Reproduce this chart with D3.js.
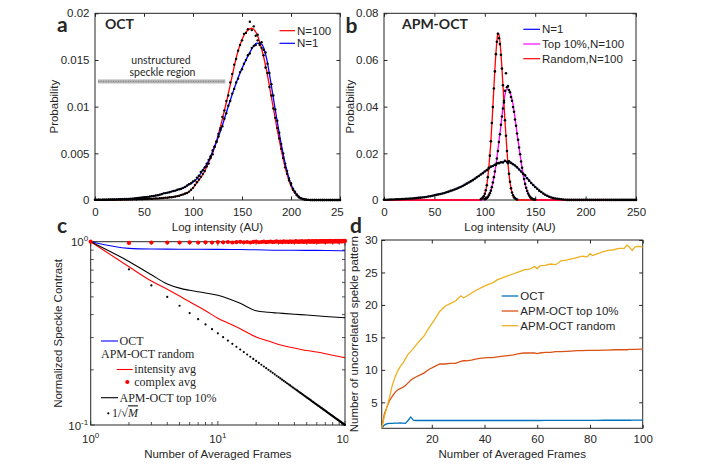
<!DOCTYPE html>
<html><head><meta charset="utf-8">
<script src="https://cdn.jsdelivr.net/npm/d3@7/dist/d3.min.js"></script>
<style>
body{margin:0;background:#fff}
text{font-family:"Liberation Sans",Arial,sans-serif;fill:#262626}
</style></head>
<body><svg id="chart" width="709" height="470"></svg>
<script>
// ---------------- DATA ----------------
// Panel a (OCT) - smooth curves, sampled every 5 AU from 0
const aCurveN100 = [0,0,0,0,0.00002,0.00003,0.00004,0.00005,0.00006,0.00008,0.0001,0.00012,0.00015,0.00018,0.00022,0.00027,0.00033,0.00045,0.0006,0.0008,0.0013,0.002,0.0027,0.0038,0.005,0.0067,0.0087,0.0109,0.0133,0.0156,0.0172,0.0181,0.0184,0.0178,0.0162,0.0139,0.011,0.0081,0.0054,0.0031,0.0015,0.0006,0.0002,0.00005,0,0,0,0,0,0,0];
const aCurveN1 = [0.00002,0.00003,0.00004,0.00005,0.00006,0.00008,0.0001,0.00013,0.00017,0.00022,0.00028,0.00035,0.00043,0.00055,0.0007,0.00082,0.00096,0.0011,0.0013,0.0016,0.0019,0.0024,0.0032,0.004,0.0052,0.0065,0.008,0.0097,0.0113,0.0128,0.0141,0.0152,0.0162,0.0168,0.0167,0.0152,0.0122,0.009,0.006,0.0035,0.0017,0.0007,0.00022,0.00005,0,0,0,0,0,0,0];
// Panel a histogram dots, every 2 AU from 0
const aDotsN100 = [0.00001,0.00001,0.00002,0.00001,0.00002,0.00002,0.00002,0.00003,0.00002,0.00003,0.00003,0.00003,0.00004,0.00003,0.00004,0.00005,0.00004,0.00005,0.00006,0.00005,0.00007,0.00006,0.00008,0.00009,0.00008,0.0001,0.00011,0.0001,0.00013,0.00012,0.00015,0.00016,0.00015,0.00019,0.0002,0.00021,0.00025,0.00024,0.00029,0.0003,0.00033,0.00038,0.00042,0.00046,0.00055,0.0006,0.0007,0.00075,0.0009,0.0011,0.0013,0.0016,0.0019,0.0022,0.0025,0.0028,0.0031,0.0036,0.0039,0.0045,0.0049,0.0057,0.0062,0.0071,0.0077,0.0089,0.0096,0.0106,0.0112,0.0126,0.0135,0.0145,0.0151,0.016,0.0166,0.0171,0.0178,0.0179,0.0183,0.0191,0.0182,0.0186,0.0176,0.0177,0.0168,0.0163,0.0155,0.0142,0.0136,0.0121,0.0112,0.0098,0.0088,0.0077,0.0066,0.0055,0.0045,0.0035,0.0028,0.0021,0.0016,0.0011,0.0008,0.0005,0.0003,0.0002,0.0001,0.00005,0.00002,0.00001,0,0,0,0,0,0,0,0,0,0,0,0,0,0,0,0];
const aDotsN1 = [0.00002,0.00002,0.00003,0.00003,0.00004,0.00004,0.00004,0.00005,0.00005,0.00006,0.00006,0.00007,0.00008,0.00008,0.00009,0.0001,0.00011,0.00012,0.00014,0.00015,0.00017,0.00019,0.00021,0.00024,0.00026,0.00029,0.0003,0.00034,0.00037,0.0004,0.00043,0.00048,0.00051,0.00057,0.00062,0.00071,0.00074,0.00079,0.00083,0.0009,0.00097,0.001,0.0011,0.00115,0.0012,0.0013,0.0014,0.00155,0.0017,0.0018,0.002,0.0021,0.0024,0.0026,0.003,0.0032,0.0035,0.0039,0.0043,0.0047,0.0053,0.0057,0.0063,0.0068,0.0075,0.0079,0.0087,0.0093,0.0101,0.0106,0.0114,0.0119,0.0126,0.013,0.0137,0.014,0.0146,0.015,0.0155,0.0157,0.0163,0.0165,0.0166,0.0171,0.0166,0.0169,0.0161,0.0158,0.0146,0.0136,0.0124,0.0112,0.0097,0.0085,0.0072,0.006,0.005,0.0039,0.0031,0.0023,0.0018,0.0012,0.0009,0.0006,0.00035,0.0002,0.0001,0.00005,0.00002,0.00001,0,0,0,0,0,0,0,0,0,0,0,0,0,0,0,0];
const aXTicks = [0,50,100,150,200,250];
const aXTickLabels = ['0','50','100','150','200','250'];
const aYTicks = [0,0.005,0.01,0.015,0.02];
const aYTickLabels = ['0','0.005','0.01','0.015','0.02'];
const aRegion = [3,133];      // unstructured speckle region (AU)
const aRegionLevel = 0.0127;

// Panel b (APM-OCT)
const bN1X = [0,10,20,30,40,50,60,70,80,90,100,110,115,120,125,130,135,140,145,150,155,160,165,170,175,180,190,250];
const bN1Y = [0.0001,0.0002,0.0004,0.0007,0.0012,0.002,0.003,0.0045,0.0065,0.009,0.0122,0.0152,0.016,0.0165,0.0162,0.0148,0.0127,0.0103,0.0078,0.0056,0.0037,0.0022,0.0012,0.0006,0.0003,0.0001,0,0];
const bTopX = [0,96,100,102,104,106,108,110,112,114,116,118,120,122,124,126,128,130,132,134,136,138,140,142,144,146,148,150,155,250];
const bTopY = [0,0,0.0003,0.0008,0.002,0.004,0.0075,0.012,0.018,0.025,0.032,0.0395,0.045,0.0475,0.0472,0.0448,0.041,0.035,0.0285,0.0225,0.0165,0.011,0.0068,0.0038,0.0018,0.0007,0.0002,0,0,0];
const bRandX = [0,90,94,96,98,100,102,104,106,108,110,112,113,114,116,118,120,122,124,126,128,130,132,134,138,250];
const bRandY = [0,0,0,0.0002,0.0008,0.0025,0.0065,0.014,0.025,0.04,0.056,0.068,0.0715,0.071,0.063,0.049,0.034,0.021,0.011,0.005,0.002,0.0007,0.0002,0,0,0];
const bDotsN1 = [0.0001,0.0001,0.0001,0.0002,0.0002,0.0002,0.0003,0.0003,0.0003,0.0004,0.0004,0.0005,0.0005,0.0006,0.0006,0.0007,0.0008,0.0009,0.001,0.0011,0.0012,0.0013,0.0015,0.0016,0.0018,0.002,0.0022,0.0024,0.0026,0.0028,0.003,0.0033,0.0036,0.0039,0.0042,0.0045,0.0048,0.0052,0.0056,0.006,0.0065,0.007,0.0075,0.008,0.0085,0.0091,0.0097,0.0103,0.0109,0.0115,0.0122,0.0128,0.0135,0.0143,0.0146,0.0151,0.0157,0.0158,0.0162,0.0161,0.0168,0.0164,0.0166,0.0159,0.0153,0.0148,0.014,0.0131,0.0122,0.0112,0.0106,0.0093,0.0083,0.0073,0.0064,0.0056,0.0048,0.004,0.0034,0.0028,0.0022,0.0018,0.0014,0.0011,0.0008,0.0006,0.0005,0.0004,0.0003,0.0002,0.0001,0.00005,0.00005,0.00005,0.00005,0.00005,0.00005,0.00005,0.00005,0.00005,0.00005,0.00005,0.00005,0.00005,0.00005,0.00005,0.00005,0.00005,0.00005,0.00005,0.00005,0.00005,0.00005,0.00005,0.00005,0.00005,0.00005,0.00005,0.00005,0.00005,0.00005,0.00005,0.00005,0.00005,0.00005,0.00005];
const bDotsRandStart = 96;
const bDotsRand = [0.0003,0.0006,0.001,0.0016,0.0027,0.0042,0.0063,0.0098,0.0138,0.019,0.0252,0.033,0.0398,0.0478,0.0551,0.0625,0.0678,0.0712,0.0693,0.0668,0.0622,0.0563,0.0492,0.0418,0.0342,0.0275,0.021,0.0158,0.0112,0.0078,0.005,0.0032,0.002,0.0012,0.0007,0.0004,0.0002];
const bDotsTopStart = 100;
const bDotsTop = [0.0003,0.0005,0.0009,0.0013,0.002,0.0029,0.004,0.0055,0.0075,0.0098,0.0122,0.015,0.0178,0.021,0.0248,0.0282,0.0322,0.0358,0.0392,0.0425,0.0468,0.0543,0.0483,0.0488,0.0471,0.0462,0.0441,0.0425,0.0398,0.0378,0.0345,0.0318,0.0285,0.0258,0.0225,0.0196,0.0165,0.0138,0.0112,0.009,0.0069,0.0052,0.0039,0.0028,0.0019,0.0013,0.0008,0.0005,0.0003,0.0002,0.0001];
const bXTicks = [0,50,100,150,200,250];
const bXTickLabels = ['0','50','100','150','200','250'];
const bYTicks = [0,0.02,0.04,0.06,0.08];
const bYTickLabels = ['0','0.02','0.04','0.06','0.08'];

// Panel c (speckle contrast vs frames)
const cOctM = [1,2,3,5,10,15,20,30,50,70,100];
const cOct = [1,0.92,0.912,0.91,0.908,0.906,0.903,0.898,0.897,0.896,0.892];
const cRandM = [1,2,3,4,5,6,7,8,10,12,15,20,25,30,40,50,60,70,80,100];
const cRand = [1,0.73,0.61,0.55,0.505,0.47,0.443,0.42,0.382,0.36,0.335,0.302,0.287,0.275,0.263,0.255,0.25,0.245,0.24,0.233];
const cTopM = [1,2,3,4,5,6,7,8,10,12,15,20,25,30,40,50,70,100];
const cTop = [1,0.78,0.66,0.588,0.558,0.543,0.533,0.525,0.51,0.49,0.461,0.42,0.412,0.408,0.402,0.398,0.391,0.385];
const cComplex = [1.0,0.985,0.99,0.99,0.99,0.992,0.99,0.993,0.99,0.995,
0.992,0.996,0.99,0.994,0.998,0.992,0.996,0.99,0.997,1.0,
0.993,0.996,1.0,0.994,0.998,1.002,0.995,0.999,1.003,0.996,
1.0,0.993,1.004,0.998,1.001,0.995,1.005,0.999,1.002,0.996,
1.006,1.0,0.997,1.004,0.999,1.007,0.996,1.002,1.005,0.998,
1.003,1.008,0.999,1.004,1.0,1.006,0.997,1.003,1.008,1.001,
1.005,0.998,1.007,1.002,1.004,1.009,1.0,1.006,1.003,0.999,
1.008,1.004,1.001,1.007,1.003,1.01,1.002,1.006,1.004,1.009,
1.001,1.007,1.005,1.011,1.003,1.008,1.006,1.002,1.01,1.005,
1.008,1.004,1.011,1.007,1.003,1.009,1.006,1.012,1.008,1.01];
const cInvSqrt = [0.7071,0.5774,0.5,0.4472,0.4082,0.378,0.3536,0.3333,0.3162,0.3015,0.2887,0.2774,0.2673,0.2582,0.25,0.2425,0.2357,0.2294,0.2236,0.2182,0.2132,0.2085,0.2041,0.2,0.1961,0.1925,0.189,0.1857,0.1826,0.1796,0.1768,0.1741,0.1715,0.169,0.1667,0.1644,0.1622,0.1601,0.1581,0.1562,0.1543,0.1525,0.1508,0.1491,0.1474,0.1459,0.1443,0.1429,0.1414,0.14,0.1387,0.1374,0.1361,0.1348,0.1336,0.1325,0.1313,0.1302,0.1291,0.128,0.127,0.126,0.125,0.124,0.1231,0.1222,0.1213,0.1204,0.1195,0.1187,0.1179,0.117,0.1162,0.1155,0.1147,0.114,0.1132,0.1125,0.1118,0.1111,0.1104,0.1098,0.1091,0.1085,0.1078,0.1072,0.1066,0.106,0.1054,0.1048,0.1043,0.1037,0.1031,0.1026,0.1021,0.1015,0.101,0.1005,0.1];

// Panel d (uncorrelated speckle patterns)
const dFrames = [1,2,3,4,5,6,7,8,9,10,11,12,13,14,15,17,19,21,23,25,27,29,31,32,33,35,37,39,41,43,45,47,49,51,53,55,57,59,60,61,63,65,67,69,71,73,75,77,79,80,81,83,85,87,89,91,93,94,95,96,97,98,99,100];
const dOct = [1.0,1.5,1.7,1.75,1.75,1.8,1.8,1.85,1.8,1.75,2.2,2.75,2.25,2.2,2.2,2.2,2.2,2.2,2.2,2.2,2.2,2.2,2.2,2.2,2.2,2.2,2.2,2.2,2.2,2.2,2.2,2.2,2.2,2.2,2.2,2.2,2.2,2.2,2.2,2.2,2.22,2.22,2.22,2.22,2.22,2.22,2.22,2.22,2.22,2.22,2.22,2.22,2.24,2.24,2.24,2.24,2.24,2.24,2.24,2.25,2.25,2.25,2.25,2.25];
const dTop = [1.0,3.2,4.3,5.3,5.9,6.5,6.9,7.1,7.3,7.6,8.0,8.4,8.7,8.9,9.1,9.5,10.1,10.5,10.9,10.9,11.0,11.0,11.3,11.4,11.4,11.5,11.7,11.8,11.9,11.9,12.0,12.1,12.2,12.3,12.5,12.6,12.6,12.6,12.5,12.6,12.7,12.7,12.8,12.8,12.85,12.9,12.95,12.95,13.0,13.0,13.0,13.0,13.05,13.05,13.1,13.1,13.1,13.1,13.15,13.15,13.15,13.15,13.2,13.2];
const dRand = [1.0,2.8,4.3,5.8,7.6,8.8,9.8,10.5,11.0,11.7,12.4,12.8,13.3,13.8,14.3,15.2,16.5,17.7,19.0,19.8,20.2,20.6,21.4,21.1,21.3,21.8,22.3,22.7,23.1,23.4,23.9,24.2,24.5,24.8,25.1,25.4,25.5,25.9,25.6,26.0,26.1,26.3,26.2,26.8,26.9,27.1,27.3,27.5,27.4,27.9,27.6,27.9,28.2,28.4,28.5,28.7,28.7,29.2,28.9,28.4,28.9,29.0,29.0,28.9];
const dXTicks = [20,40,60,80,100];
const dYTicks = [5,10,15,20,25,30];

// ---------------- DRAWING ----------------
const AX = '#262626', FS = 11.5;
const svg = d3.select('#chart');
const defs = svg.append('defs');
defs.append('clipPath').attr('id','clipA').append('rect').attr('x',0).attr('y',0).attr('width',344).attr('height',236);
defs.append('clipPath').attr('id','clipC').append('rect').attr('x',0).attr('y',236).attr('width',348.5).attr('height',234);

function linAxes(g, x, y, xt, xl, yt, yl, opt) {
  const [x0,x1] = x.range(), [y0,y1] = y.range();
  const tl = opt.tick || 3.5;
  const ax = [
    g.append('g').attr('transform',`translate(0,${y0})`).call(d3.axisBottom(x).tickValues(xt).tickFormat((d,i)=>xl[i]).tickSize(-tl).tickSizeOuter(0).tickPadding(opt.xpad)),
    g.append('g').attr('transform',`translate(0,${y1})`).call(d3.axisTop(x).tickValues(xt).tickFormat('').tickSize(-tl).tickSizeOuter(0)),
    g.append('g').attr('transform',`translate(${x0},0)`).call(d3.axisLeft(y).tickValues(yt).tickFormat((d,i)=>yl[i]).tickSize(-tl).tickSizeOuter(0).tickPadding(opt.ypad)),
    g.append('g').attr('transform',`translate(${x1},0)`).call(d3.axisRight(y).tickValues(yt).tickFormat('').tickSize(-tl).tickSizeOuter(0))
  ];
  ax.forEach(a=>{
    a.select('.domain').remove();
    a.selectAll('line').attr('stroke',AX);
    a.selectAll('text').attr('font-size',FS).attr('fill',AX).style('font-family','"Liberation Sans",Arial,sans-serif');
  });
  g.append('rect').attr('x',x0).attr('y',y1).attr('width',x1-x0).attr('height',y0-y1)
    .attr('fill','none').attr('stroke',AX).attr('stroke-width',1);
}
function xLabel(g, x, yb, t){ g.append('text').attr('x',x).attr('y',yb).attr('text-anchor','middle').attr('font-size',FS).text(t); }
function yLabel(g, xc, yc, t){ g.append('text').attr('transform',`translate(${xc},${yc}) rotate(-90)`).attr('dy','0.35em').attr('text-anchor','middle').attr('font-size',FS).text(t); }
function panelLetter(x, y, t){ svg.append('text').attr('x',x).attr('y',y).attr('font-weight','bold').attr('font-size',21).attr('fill','#000').style('font-family','Lato,sans-serif').text(t); }
function legendLine(g, x0, x1, y, color, label, lw){
  g.append('line').attr('x1',x0).attr('x2',x1).attr('y1',y).attr('y2',y).attr('stroke',color).attr('stroke-width',lw||1.2);
  g.append('text').attr('x',x1+2).attr('y',y).attr('dy','0.35em').attr('font-size',FS).text(label);
}

// ---- Panel a ----
const gA = svg.append('g').attr('clip-path','url(#clipA)');
const aX = d3.scaleLinear().domain([0,250]).range([95,340]);
const aY = d3.scaleLinear().domain([0,0.02]).range([200,13.3]);
linAxes(gA, aX, aY, aXTicks, aXTickLabels, aYTicks, aYTickLabels, {xpad:7.5, ypad:5.5});
const lineA = d3.line().x(d=>aX(d[0])).y(d=>aY(d[1])).curve(d3.curveMonotoneX);
gA.append('path').datum(aCurveN100.map((v,i)=>[i*5,v])).attr('d',lineA).attr('fill','none').attr('stroke','#ff0000').attr('stroke-width',1.3);
gA.append('path').datum(aCurveN1.map((v,i)=>[i*5,v])).attr('d',lineA).attr('fill','none').attr('stroke','#0000ff').attr('stroke-width',1.3);
gA.selectAll('.dA1').data(aDotsN100.map((v,i)=>[i*2,v])).join('circle').attr('cx',d=>aX(d[0])).attr('cy',d=>aY(d[1])).attr('r',1.2).attr('fill','#000');
gA.selectAll('.dA2').data(aDotsN1.map((v,i)=>[i*2,v])).join('circle').attr('cx',d=>aX(d[0])).attr('cy',d=>aY(d[1])).attr('r',1.2).attr('fill','#000');
// unstructured region marker
gA.append('rect').attr('x',aX(aRegion[0])).attr('width',aX(aRegion[1])-aX(aRegion[0])).attr('y',aY(aRegionLevel)-2).attr('height',4).attr('fill','#b4b4b4');
gA.append('line').attr('x1',aX(aRegion[0])).attr('x2',aX(aRegion[1])).attr('y1',aY(aRegionLevel)).attr('y2',aY(aRegionLevel)).attr('stroke','#808080').attr('stroke-width',1).attr('stroke-dasharray','1,1.5');
gA.append('text').attr('x',161).attr('y',63.5).attr('text-anchor','middle').attr('font-size',10.5).style('font-family','Lato,sans-serif').attr('fill','#333').text('unstructured');
gA.append('text').attr('x',162.5).attr('y',75.5).attr('text-anchor','middle').attr('font-size',10.5).style('font-family','Lato,sans-serif').attr('fill','#333').text('speckle region');
gA.append('text').attr('x',105).attr('y',28.5).attr('font-size',14).attr('font-weight','bold').style('font-family','Lato,sans-serif').attr('fill','#000').text('OCT');
legendLine(gA, 279.5, 295, 30.7, '#ff0000', 'N=100');
legendLine(gA, 279.5, 295, 43.3, '#0000ff', 'N=1');
xLabel(gA, 217.5, 230.5, 'Log intensity (AU)');
yLabel(gA, 54, 106.7, 'Probability');

// ---- Panel b ----
const gB = svg.append('g');
const bX = d3.scaleLinear().domain([0,250]).range([384,636]);
const bY = d3.scaleLinear().domain([0,0.08]).range([200,13.3]);
linAxes(gB, bX, bY, bXTicks, bXTickLabels, bYTicks, bYTickLabels, {xpad:7.5, ypad:5.5});
const lineB = d3.line().x(d=>bX(d[0])).y(d=>bY(d[1])).curve(d3.curveMonotoneX);
gB.append('path').datum(bN1X.map((v,i)=>[v,bN1Y[i]])).attr('d',lineB).attr('fill','none').attr('stroke','#0000ff').attr('stroke-width',1.2);
gB.append('path').datum(bTopX.map((v,i)=>[v,bTopY[i]])).attr('d',lineB).attr('fill','none').attr('stroke','#ff00ff').attr('stroke-width',1.3);
gB.append('path').datum(bRandX.map((v,i)=>[v,bRandY[i]])).attr('d',lineB).attr('fill','none').attr('stroke','#ff0000').attr('stroke-width',1.3);
const bDots = bDotsN1.map((v,i)=>[i*2,v])
  .concat(bDotsRand.map((v,i)=>[bDotsRandStart+i,v]))
  .concat(bDotsTop.map((v,i)=>[bDotsTopStart+i,v]));
gB.selectAll('.dB').data(bDots).join('circle').attr('cx',d=>bX(d[0])).attr('cy',d=>bY(d[1])).attr('r',1.3).attr('fill','#000');
gB.append('text').attr('x',402).attr('y',28.5).attr('font-size',14).attr('font-weight','bold').style('font-family','Lato,sans-serif').attr('fill','#000').text('APM-OCT');
legendLine(gB, 523.3, 540, 29.3, '#0000ff', 'N=1');
legendLine(gB, 523.3, 540, 44, '#ff00ff', 'Top 10%,N=100');
legendLine(gB, 523.3, 540, 58.7, '#ff0000', 'Random,N=100');
xLabel(gB, 510, 230.5, 'Log intensity (AU)');
yLabel(gB, 350, 106.7, 'Probability');

// ---- Panel c ----
const gC = svg.append('g').attr('clip-path','url(#clipC)');
const cX = d3.scaleLog().domain([1,100]).range([90.7,345]);
const cY = d3.scaleLog().domain([0.1,1]).range([425,241.7]);
{
  const [x0,x1] = cX.range(), [y0,y1] = cY.range();
  const xMajor = [1,10,100], xMinor = [2,3,4,5,6,7,8,9,20,30,40,50,60,70,80,90];
  const yMajor = [0.1,1], yMinor = [0.2,0.3,0.4,0.5,0.6,0.7,0.8,0.9];
  const tk = gC.append('g').attr('stroke',AX).attr('stroke-width',0.8);
  xMajor.concat(xMinor).forEach(m=>{
    const L = xMajor.includes(m)?4:3;
    tk.append('line').attr('x1',cX(m)).attr('x2',cX(m)).attr('y1',y0).attr('y2',y0-L);
    tk.append('line').attr('x1',cX(m)).attr('x2',cX(m)).attr('y1',y1).attr('y2',y1+L);
  });
  yMajor.concat(yMinor).forEach(m=>{
    const L = yMajor.includes(m)?4:3;
    tk.append('line').attr('y1',cY(m)).attr('y2',cY(m)).attr('x1',x0).attr('x2',x0+L);
    tk.append('line').attr('y1',cY(m)).attr('y2',cY(m)).attr('x1',x1).attr('x2',x1-L);
  });
  gC.append('rect').attr('x',x0).attr('y',y1).attr('width',x1-x0).attr('height',y0-y1).attr('fill','none').attr('stroke',AX);
  const cXLabels = [['10','0'],['10','1'],['10','2']];
  xMajor.forEach((m,i)=>{
    const t = gC.append('text').attr('x',cX(m)).attr('y',y0+18).attr('text-anchor','middle').attr('font-size',FS);
    t.append('tspan').text(cXLabels[i][0]);
    t.append('tspan').attr('dy',-5).attr('font-size',8).text(cXLabels[i][1]);
  });
  const cYLabels = [['10','-1'],['10','0']];
  yMajor.forEach((m,i)=>{
    const t = gC.append('text').attr('x',x0-2.5).attr('y',cY(m)+4.5).attr('text-anchor','end').attr('font-size',FS);
    t.append('tspan').text(cYLabels[i][0]);
    t.append('tspan').attr('dy',-5).attr('font-size',8).text(cYLabels[i][1]);
  });
}
const lineC = d3.line().x(d=>cX(d[0])).y(d=>cY(d[1])).curve(d3.curveMonotoneX);
gC.append('path').datum(cOctM.map((m,i)=>[m,cOct[i]])).attr('d',lineC).attr('fill','none').attr('stroke','#0000ff').attr('stroke-width',1.1);
gC.append('path').datum(cRandM.map((m,i)=>[m,cRand[i]])).attr('d',lineC).attr('fill','none').attr('stroke','#ff0000').attr('stroke-width',1.1);
gC.append('path').datum(cTopM.map((m,i)=>[m,cTop[i]])).attr('d',lineC).attr('fill','none').attr('stroke','#000').attr('stroke-width',1.1);
gC.selectAll('.dCs').data(cInvSqrt.map((v,i)=>[i+2,v])).join('circle').attr('cx',d=>cX(d[0])).attr('cy',d=>cY(d[1])).attr('r',1.1).attr('fill','#000');
gC.selectAll('.dCc').data(cComplex.map((v,i)=>[i+1,v])).join('circle').attr('cx',d=>cX(d[0])).attr('cy',d=>cY(d[1])).attr('r',2.1).attr('fill','#ff0000');
// legend c (serif)
{
  const sf = 'font-family:"Liberation Serif","Times New Roman",serif';
  const LF = 12;
  const t = (x,y,s)=>gC.append('text').attr('x',x).attr('y',y).attr('dy','0.33em').attr('font-size',LF).attr('style',sf).attr('fill','#000').text(s);
  gC.append('line').attr('x1',101).attr('x2',118).attr('y1',341).attr('y2',341).attr('stroke','#0000ff').attr('stroke-width',1.1);
  t(119.5,341,'OCT');
  t(101,354.5,'APM-OCT random');
  gC.append('line').attr('x1',116.7).attr('x2',132.7).attr('y1',369.5).attr('y2',369.5).attr('stroke','#ff0000').attr('stroke-width',1.1);
  t(134.3,369.5,'intensity avg');
  gC.append('circle').attr('cx',127.3).attr('cy',382).attr('r',2.1).attr('fill','#ff0000');
  t(134.3,382,'complex avg');
  gC.append('line').attr('x1',101).attr('x2',118).attr('y1',397.7).attr('y2',397.7).attr('stroke','#000').attr('stroke-width',1.1);
  t(119.5,397.7,'APM-OCT top 10%');
  gC.append('circle').attr('cx',108.3).attr('cy',413.3).attr('r',1.1).attr('fill','#000');
  const s = gC.append('text').attr('x',112).attr('y',413.3).attr('dy','0.33em').attr('font-size',LF).attr('style',sf).attr('fill','#000');
  s.append('tspan').text('1/√');
  s.append('tspan').attr('font-style','italic').style('text-decoration','overline').text('M');
}
xLabel(gC, 217.9, 458, 'Number of Averaged Frames');
yLabel(gC, 58.3, 333.4, 'Normalized Speckle Contrast');

// ---- Panel d ----
const gD = svg.append('g');
const dX = d3.scaleLinear().domain([1,100]).range([381.7,642.7]);
const dY = d3.scaleLinear().domain([1,30]).range([428.3,240]);
linAxes(gD, dX, dY, dXTicks, dXTicks.map(String), dYTicks, dYTicks.map(String), {xpad:6.5, ypad:4});
const lineD = d3.line().x(d=>dX(d[0])).y(d=>dY(d[1]));
[[dOct,'#0072BD'],[dTop,'#D95319'],[dRand,'#EDB120']].forEach(([s,c])=>{
  gD.append('path').datum(dFrames.map((f,i)=>[f,s[i]])).attr('d',lineD).attr('fill','none').attr('stroke',c).attr('stroke-width',1.3);
});
legendLine(gD, 501.7, 518.3, 296, '#0072BD', 'OCT', 1.3);
legendLine(gD, 501.7, 518.3, 311, '#D95319', 'APM-OCT top 10%', 1.3);
legendLine(gD, 501.7, 518.3, 325.7, '#EDB120', 'APM-OCT random', 1.3);
xLabel(gD, 512.2, 458, 'Number of Averaged Frames');
yLabel(gD, 354, 334.2, 'Number of uncorrelated spekle pattern');

// panel letters
panelLetter(57, 32, 'a');
panelLetter(345.5, 33, 'b');
panelLetter(57, 233, 'c');
panelLetter(350, 233, 'd');
</script></body></html>
